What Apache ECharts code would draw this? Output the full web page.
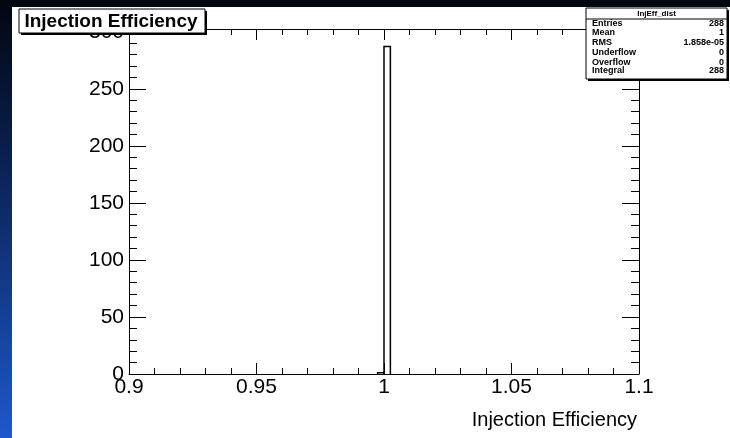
<!DOCTYPE html>
<html>
<head>
<meta charset="utf-8">
<script src="https://cdn.jsdelivr.net/npm/echarts@6/dist/echarts.min.js"></script>
<style>
html,body{margin:0;padding:0;background:#000;}
#chart{width:730px;height:438px;}
</style>
</head>
<body>
<div id="chart"></div>
<script>
// ---- data ----
const binLow = [0.9975, 1.0];          // lower edges of non-empty bins
const binWidth = 0.0025;               // 80 bins over 0.9..1.1
const binCounts = [1, 287];
const xTicks = [0.9, 0.95, 1, 1.05, 1.1];
const yTicks = [0, 50, 100, 150, 200, 250, 300];
const xRange = [0.9, 1.1];
const yMax = 302.4;
const histTitle = 'Injection Efficiency';
const xTitle = 'Injection Efficiency';
const statsName = 'InjEff_dist';
const statsLabels = ['Entries', 'Mean', 'RMS', 'Underflow', 'Overflow', 'Integral'];
const statsValues = ['288', '1', '1.858e-05', '0', '0', '288'];

const bins = binLow.map((lo, i) => [lo, lo + binWidth, binCounts[i]]);

const chart = echarts.init(document.getElementById('chart'));
const FONT = 'Liberation Sans, Arial, Helvetica, sans-serif';

const gridL = 129, gridT = 29, gridR = 91, gridB = 64;

function xAxisCfg(pos, showLabel) {
  return {
    type: 'value', position: pos, min: xRange[0], max: xRange[1], interval: 0.05,
    axisLine: { show: true, onZero: false, lineStyle: { color: '#000', width: 1 } },
    axisTick: { show: true, inside: true, length: 11, lineStyle: { color: '#000', width: 1 } },
    minorTick: { show: true, splitNumber: 5, length: 6, lineStyle: { color: '#000', width: 1 } },
    splitLine: { show: false },
    axisLabel: { show: showLabel, color: '#000', fontSize: 21, fontFamily: FONT, margin: 3,
      formatter: v => { const t = xTicks.find(x => Math.abs(x - v) < 1e-9); return t === undefined ? '' : String(t); } }
  };
}
function yAxisCfg(pos, showLabel) {
  return {
    type: 'value', position: pos, min: 0, max: yMax, interval: 50,
    axisLine: { show: true, onZero: false, lineStyle: { color: '#000', width: 1 } },
    axisTick: { show: true, inside: true, length: 17, lineStyle: { color: '#000', width: 1 } },
    minorTick: { show: true, splitNumber: 5, length: 8, lineStyle: { color: '#000', width: 1 } },
    splitLine: { show: false },
    axisLabel: { show: showLabel, color: '#000', fontSize: 21, fontFamily: FONT, margin: 5, showMaxLabel: false,
      formatter: v => (yTicks.indexOf(v) >= 0 ? String(v) : '') }
  };
}

const statsX = 586, statsY = 8, statsW = 141, statsH = 71;
const rowY = [24, 33, 43, 53, 63, 71];
const statsGraphics = [];
statsGraphics.push({ type: 'rect', z: 100, shape: { x: statsX + 2, y: statsY + 2, width: statsW, height: statsH }, style: { fill: '#000' } });
statsGraphics.push({ type: 'rect', z: 101, shape: { x: statsX, y: statsY, width: statsW, height: statsH }, style: { fill: '#fff', stroke: '#000', lineWidth: 1 } });
statsGraphics.push({ type: 'line', z: 102, shape: { x1: statsX, y1: 19, x2: statsX + statsW, y2: 19 }, style: { stroke: '#000', lineWidth: 1 } });
statsGraphics.push({ type: 'text', z: 102, x: statsX + statsW / 2, y: 13.5, style: { text: statsName, fill: '#000', font: 'bold 8px ' + FONT, align: 'center', verticalAlign: 'middle' } });
statsLabels.forEach((lab, i) => {
  statsGraphics.push({ type: 'text', z: 102, x: 592, y: rowY[i], style: { text: lab, fill: '#000', font: 'bold 9px ' + FONT, align: 'left', verticalAlign: 'middle' } });
  statsGraphics.push({ type: 'text', z: 102, x: 724, y: rowY[i], style: { text: statsValues[i], fill: '#000', font: 'bold 9px ' + FONT, align: 'right', verticalAlign: 'middle' } });
});

const option = {
  animation: false,
  backgroundColor: new echarts.graphic.LinearGradient(0, 0, 0, 1, [
    { offset: 0, color: '#02060f' },
    { offset: 0.35, color: '#0a1f4e' },
    { offset: 1, color: '#1d58cc' }
  ]),
  graphic: [
    { type: 'rect', z: -10, silent: true, shape: { x: 12, y: 7, width: 718, height: 431 }, style: { fill: '#fff' } },
    { type: 'rect', z: 100, shape: { x: 21, y: 11, width: 186, height: 24 }, style: { fill: '#000' } },
    { type: 'rect', z: 101, shape: { x: 19, y: 9, width: 186, height: 24 }, style: { fill: '#fff', stroke: '#000', lineWidth: 1 } },
    { type: 'text', z: 102, x: 111, y: 21.5, style: { text: histTitle, fill: '#000', font: 'bold 19px ' + FONT, align: 'center', verticalAlign: 'middle' } },
    { type: 'text', z: 102, x: 637, y: 420, style: { text: xTitle, fill: '#000', font: '20px ' + FONT, align: 'right', verticalAlign: 'middle' } }
  ].concat(statsGraphics),
  grid: { left: gridL, top: gridT, right: gridR, bottom: gridB, show: false },
  xAxis: [xAxisCfg('bottom', true), xAxisCfg('top', false)],
  yAxis: [yAxisCfg('left', true), yAxisCfg('right', false)],
  series: [{
    type: 'custom',
    xAxisIndex: 0, yAxisIndex: 0,
    data: bins,
    renderItem: function (params, api) {
      const p0 = api.coord([api.value(0), 0]);
      const p1 = api.coord([api.value(1), api.value(2)]);
      return {
        type: 'polyline',
        shape: { points: [[p0[0], p0[1]], [p0[0], p1[1]], [p1[0], p1[1]], [p1[0], p0[1]]] },
        style: { stroke: '#000', fill: null, lineWidth: 1.5 }
      };
    }
  }]
};
chart.setOption(option);
</script>
</body>
</html>
